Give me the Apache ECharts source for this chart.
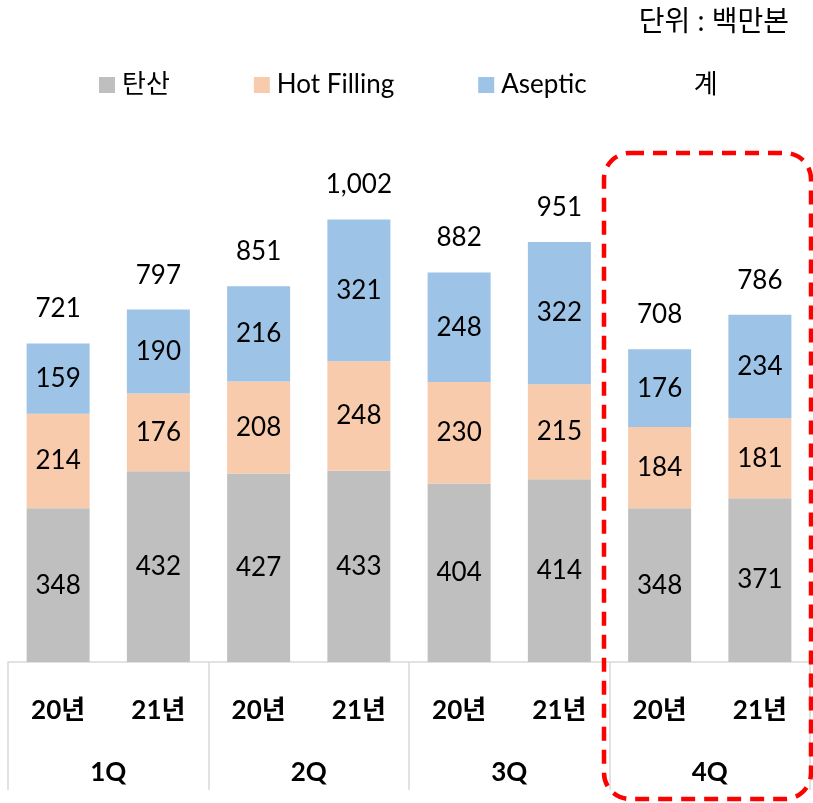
<!DOCTYPE html>
<html>
<head>
<meta charset="utf-8">
<script src="https://cdn.jsdelivr.net/npm/echarts@6/dist/echarts.min.js"></script>
<style>
  html, body { margin: 0; padding: 0; background: #fff; }
  #chart { width: 813px; height: 803px; }
</style>
</head>
<body>
<div id="chart"></div>
<script>
  // 데이터
  var years = ['20년', '21년', '20년', '21년', '20년', '21년', '20년', '21년'];
  var quarters = ['1Q', '2Q', '3Q', '4Q'];
  var carbonated = [348, 432, 427, 433, 404, 414, 348, 371];
  var hotFilling = [214, 176, 208, 248, 230, 215, 184, 181];
  var aseptic = [159, 190, 216, 321, 248, 322, 176, 234];
  var totals = [721, 797, 851, 1002, 882, 951, 708, 786];

  var font = "Lato, 'Noto Sans CJK KR', sans-serif";
  var chart = echarts.init(document.getElementById('chart'));

  var insideLabel = {
    show: true,
    position: 'inside',
    color: '#000',
    fontSize: 26,
    fontFamily: font
  };

  var option = {
    animation: false,
    textStyle: { fontFamily: font },
    title: {
      text: '단위 : 백만본',
      right: 24,
      top: 8,
      padding: 0,
      textStyle: { fontSize: 28, fontWeight: 'normal', color: '#000', fontFamily: font }
    },
    legend: {
      left: 99,
      top: 72,
      padding: 0,
      itemWidth: 16,
      itemHeight: 16,
      itemGap: 84,
      icon: 'rect',
      textStyle: { fontSize: 26, color: '#000', fontFamily: font, padding: [0, 0, 0, 2] },
      data: [
        { name: '탄산' },
        { name: 'Hot Filling' },
        { name: 'Aseptic' },
        { name: '계', itemStyle: { color: 'transparent' } }
      ]
    },
    grid: { left: 8, right: 3, top: 132, bottom: 141 },
    xAxis: [{
      type: 'category',
      data: years,
      axisLine: { show: true, lineStyle: { color: '#d9d9d9', width: 1.5 } },
      axisTick: { show: false },
      axisLabel: { margin: 36, fontSize: 26, fontWeight: 'bold', color: '#000', fontFamily: font }
    }, {
      type: 'category',
      data: quarters,
      position: 'bottom',
      axisLine: { show: false },
      axisTick: { show: true, interval: 0, length: 128, lineStyle: { color: '#d9d9d9', width: 1.5 } },
      axisLabel: { margin: 98, fontSize: 26, fontWeight: 'bold', color: '#000', fontFamily: font }
    }],
    yAxis: { type: 'value', min: 0, max: 1200, show: false },
    series: [{
      name: '탄산',
      type: 'bar',
      stack: 'q',
      barWidth: 63,
      itemStyle: { color: '#bfbfbf' },
      label: insideLabel,
      data: carbonated
    }, {
      name: 'Hot Filling',
      type: 'bar',
      stack: 'q',
      itemStyle: { color: '#f8cbad' },
      label: insideLabel,
      data: hotFilling
    }, {
      name: 'Aseptic',
      type: 'bar',
      stack: 'q',
      itemStyle: { color: '#9dc3e6' },
      label: insideLabel,
      data: aseptic
    }, {
      name: '계',
      type: 'line',
      symbol: 'circle',
      symbolSize: 1,
      showSymbol: true,
      lineStyle: { width: 0, color: 'rgba(0,0,0,0)' },
      itemStyle: { color: 'rgba(0,0,0,0)' },
      label: {
        show: true,
        position: 'top',
        distance: 21,
        color: '#000',
        fontSize: 26,
        fontFamily: font,
        formatter: function (p) { return p.value.toLocaleString('en-US'); }
      },
      data: totals
    }],
    graphic: [{
      type: 'rect',
      shape: { x: 604, y: 153, width: 207, height: 646, r: 26 },
      style: { fill: 'none', stroke: '#ff0000', lineWidth: 4.5, lineDash: [14, 9] },
      z: 100
    }]
  };

  chart.setOption(option);
</script>
</body>
</html>
